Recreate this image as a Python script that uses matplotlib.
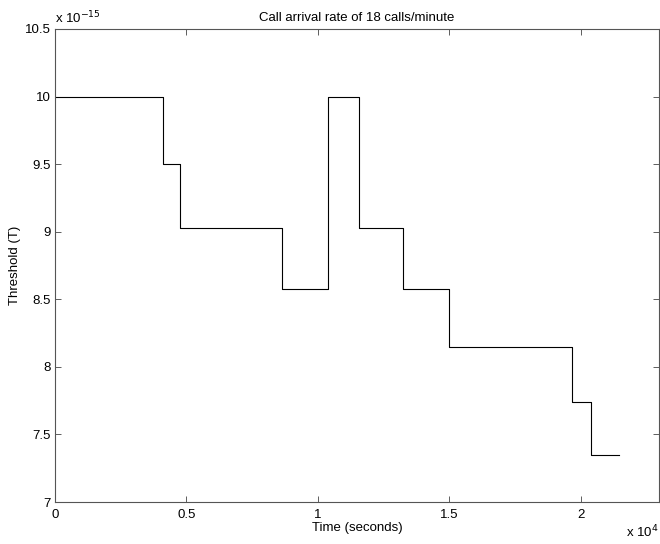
import numpy as np
import matplotlib
matplotlib.use("Agg")
import matplotlib.pyplot as plt

# step changes of the threshold (time in seconds, threshold value)
t_sec = [0, 4110, 4760, 8630, 10380, 10390, 10400, 11560, 13230, 14980, 19650, 20400, 21470]
thresh = [10.0e-15, 9.5e-15, 9.025e-15, 8.574e-15, 9.025e-15, 9.5e-15, 10.0e-15,
          9.025e-15, 8.574e-15, 8.145e-15, 7.738e-15, 7.351e-15, 7.351e-15]

xticks = [0, 0.5, 1, 1.5, 2]
yticks = [7, 7.5, 8, 8.5, 9, 9.5, 10, 10.5]

plt.rcParams['font.family'] = ['Liberation Sans', 'DejaVu Sans']
fs = 9.5

fig = plt.figure(figsize=(6.6, 5.44), dpi=100)
ax = fig.add_axes([0.0833, 0.0772, 0.915, 0.8695])

x = np.array(t_sec) / 1e4
y = np.array(thresh) / 1e-15
ax.step(x, y, where='post', color='black', lw=0.8)

ax.set_xlim(0, 2.297)
ax.set_ylim(7, 10.5)
ax.set_xticks(xticks)
ax.set_xticklabels(['0', '0.5', '1', '1.5', '2'])
ax.set_yticks(yticks)
ax.set_yticklabels(['7', '7.5', '8', '8.5', '9', '9.5', '10', '10.5'])
ax.tick_params(direction='in', length=4, width=0.6, top=True, right=True,
               labelsize=fs, pad=3, color='#444444')
ax.tick_params(axis='x', pad=5)
for s in ax.spines.values():
    s.set_linewidth(0.8)
    s.set_color('#555555')

ax.set_xlabel("Time (seconds)", fontsize=fs, labelpad=1)
ax.set_ylabel("Threshold (T)", fontsize=fs, labelpad=3)
ax.set_title("Call arrival rate of 18 calls/minute", fontsize=fs, pad=6)

ax.text(0.0, 1.005, r"x 10$^{-15}$", transform=ax.transAxes, fontsize=fs,
        ha='left', va='bottom')
ax.text(1.0, -0.074, r"x 10$^{4}$", transform=ax.transAxes, fontsize=fs,
        ha='right', va='baseline')

plt.savefig("out.png", dpi=100)
